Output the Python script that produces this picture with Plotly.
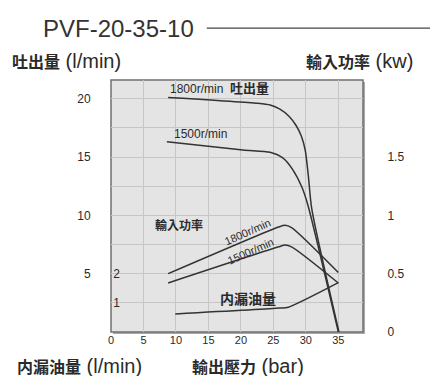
import plotly.graph_objects as go

# pressure (bar) vs flow (l/min)
p_flow_1800 = [8.8, 22.6, 24.5, 26.0, 27.4, 28.5, 29.3, 29.9, 30.4, 30.9, 35.1]
flow_1800 = [20.1, 19.6, 19.45, 19.1, 18.5, 17.7, 16.8, 15.6, 13.3, 10.6, 0.0]
p_flow_1500 = [8.6, 20.3, 24.5, 26.5, 28.0, 29.4, 30.3, 35.0]
flow_1500 = [16.3, 15.6, 15.4, 14.9, 13.9, 12.4, 10.9, 0.0]

# pressure (bar) vs input power (kW)
p_power = [8.8, 25.8, 26.8, 27.8, 35.0]
power_1800 = [0.50, 0.90, 0.915, 0.895, 0.51]
power_1500 = [0.42, 0.73, 0.745, 0.73, 0.42]

# pressure (bar) vs internal leakage (l/min)
p_leak = [9.9, 26.0, 27.3, 35.0]
leak = [0.62, 0.82, 0.85, 1.69]

flow_ticks = [2.5, 5, 7.5, 10, 12.5, 15, 17.5, 20]
flow_ticktext = ["", "5", "", "10", "", "15", "", "20"]
power_ticks = [0, 0.5, 1, 1.5]
power_ticktext = ["0", "0.5", "1", "1.5"]
leak_ticks = [1, 2]
x_ticks = [0, 5, 10, 15, 20, 25, 30, 35]

FONT = "Liberation Sans, Noto Sans CJK TC, sans-serif"
INK = "#2a2a2a"
line_style = dict(color="#333333", width=1.5, shape="spline", smoothing=0.7)

fig = go.Figure()
fig.add_trace(go.Scatter(x=p_flow_1800, y=flow_1800, mode="lines", line=line_style, showlegend=False))
fig.add_trace(go.Scatter(x=p_flow_1500, y=flow_1500, mode="lines", line=line_style, showlegend=False))
fig.add_trace(go.Scatter(x=p_power, y=power_1800, yaxis="y2", mode="lines", line=line_style, showlegend=False))
fig.add_trace(go.Scatter(x=p_power, y=power_1500, yaxis="y2", mode="lines", line=line_style, showlegend=False))
fig.add_trace(go.Scatter(x=p_leak, y=leak, yaxis="y3", mode="lines", line=line_style, showlegend=False))

# plot panel drawn as shapes so it can carry a small drop shadow
fig.add_shape(type="rect", xref="paper", yref="paper", x0=0.008, x1=1.008, y0=-0.008, y1=0.992,
              fillcolor="#a8a8a8", line=dict(width=0), layer="below")
fig.add_shape(type="rect", xref="paper", yref="paper", x0=0, x1=1, y0=0, y1=1,
              fillcolor="#e4e4e4", line=dict(color="#707070", width=1.5), layer="below")

# in-plot labels
small = dict(family=FONT, size=12, color=INK)
fig.add_annotation(x=8.8, y=20.85,
                   text="1800r/min  <b><span style='font-size:13px'>吐出量</span></b>",
                   showarrow=False, xanchor="left", font=small)
fig.add_annotation(x=9.4, y=16.95, text="1500r/min", showarrow=False, xanchor="left", font=small)
fig.add_annotation(x=6.4, y=9.15, text="<b>輸入功率</b>", showarrow=False, xanchor="left",
                   font=dict(family=FONT, size=12, color=INK))
fig.add_annotation(x=20.95, y=8.6, text="1800r/min", showarrow=False, textangle=-24,
                   font=dict(family=FONT, size=11, color=INK))
fig.add_annotation(x=21.5, y=6.95, text="1500r/min", showarrow=False, textangle=-24,
                   font=dict(family=FONT, size=11, color=INK))
fig.add_annotation(x=21.1, y=2.85, text="<b>内漏油量</b>", showarrow=False,
                   font=dict(family=FONT, size=14, color=INK))

# titles around the chart (paper coords: plot area is 252x252 px)
def cap(cjk, latin):
    return f"<b><span style='font-size:16px'>{cjk}</span></b> {latin}"

big = dict(family=FONT, size=20, color=INK)
fig.add_annotation(x=0.03, y=1.206, xref="paper", yref="paper", text="PVF-20-35-10", showarrow=False,
                   xanchor="center", yanchor="middle", font=dict(family=FONT, size=24, color="#333333"))
fig.add_shape(type="line", xref="paper", yref="paper", x0=0.38, x1=1.35, y0=1.206, y1=1.206,
              line=dict(color="#444444", width=1.2))
fig.add_annotation(x=-0.40, y=1.075, xref="paper", yref="paper", text=cap("吐出量", "(l/min)"),
                   showarrow=False, xanchor="left", yanchor="middle", font=big)
fig.add_annotation(x=1.206, y=1.075, xref="paper", yref="paper", text=cap("輸入功率", "(kw)"),
                   showarrow=False, xanchor="right", yanchor="middle", font=big)
fig.add_annotation(x=-0.38, y=-0.135, xref="paper", yref="paper", text=cap("内漏油量", "(l/min)"),
                   showarrow=False, xanchor="left", yanchor="middle", font=big)
fig.add_annotation(x=0.313, y=-0.135, xref="paper", yref="paper", text=cap("輸出壓力", "(bar)"),
                   showarrow=False, xanchor="left", yanchor="middle", font=big)

tick_font = dict(family=FONT, size=12, color=INK)
# the page has an 8px body margin, so the figure is 8px smaller than the window
fig.update_layout(
    width=430, height=368,
    margin=dict(l=103, r=75, t=72, b=44),
    paper_bgcolor="white",
    plot_bgcolor="rgba(0,0,0,0)",
    font=dict(family=FONT, color=INK),
    xaxis=dict(range=[0, 38.8], tickvals=x_ticks, showgrid=True, gridcolor="#c6c6c6", gridwidth=1,
               zeroline=False, showline=False, ticks="", tickfont=dict(family=FONT, size=11, color=INK)),
    yaxis=dict(range=[0, 21.6], tickvals=flow_ticks, ticktext=flow_ticktext, showgrid=True,
               gridcolor="#c6c6c6", gridwidth=1, zeroline=False, showline=False,
               ticks="outside", ticklen=17, tickcolor="rgba(0,0,0,0)", tickfont=tick_font),
    yaxis2=dict(range=[0, 2.16], overlaying="y", side="right", tickvals=power_ticks,
                ticktext=power_ticktext, showgrid=False, zeroline=False, showline=False,
                ticks="outside", ticklen=21, tickcolor="rgba(0,0,0,0)", tickfont=tick_font),
    yaxis3=dict(range=[0, 8.64], overlaying="y", side="right", anchor="free", position=0.005,
                tickvals=leak_ticks, showgrid=False, zeroline=False, showline=False,
                ticks="", tickfont=tick_font),
)

fig.write_html("out.html")
